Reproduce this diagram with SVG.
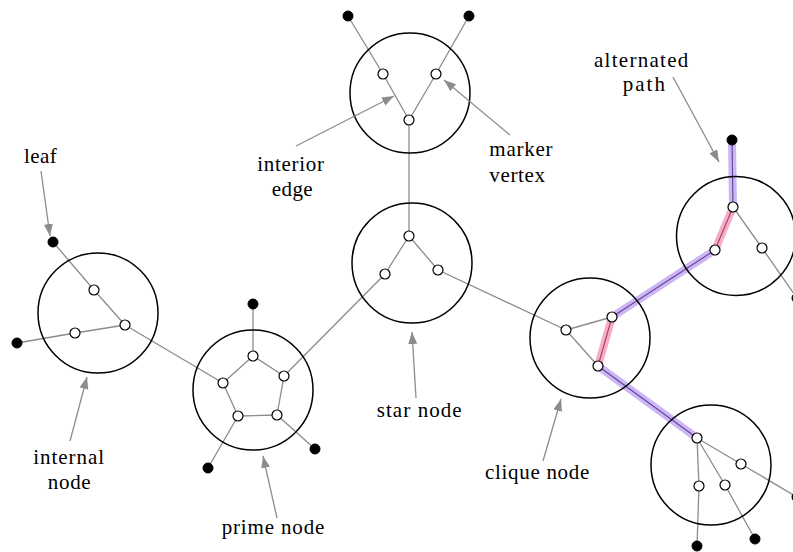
<svg xmlns="http://www.w3.org/2000/svg" width="793" height="552" viewBox="0 0 793 552">
<style>
.e{stroke:#8c8c8c;stroke-width:1.3;fill:none;stroke-linecap:round}
.pe{stroke:#222;stroke-width:1.1;fill:none}
.hp{stroke:#9d6cf2;stroke-opacity:0.5;stroke-width:8;fill:none;stroke-linecap:round}
.hk{stroke:#f2679f;stroke-opacity:0.55;stroke-width:8;fill:none;stroke-linecap:round}
.bag{fill:none;stroke:#000;stroke-width:1.5}
.v{fill:#fff;stroke:#000;stroke-width:1.2}
.lf{fill:#000;stroke:#000;stroke-width:1}
.a{stroke:#8c8c8c;stroke-width:1.3;fill:none;marker-end:url(#ah)}
.t{font-size:21px;fill:#000}
</style>
<defs>
<marker id="ah" markerUnits="userSpaceOnUse" markerWidth="13" markerHeight="10" refX="12" refY="4.5" orient="auto">
<path d="M0,0 L12,4.5 L0,9 z" fill="#8c8c8c"/>
</marker>
</defs>
<rect width="793" height="552" fill="#fff"/>
<g id="connectors">
<line class="e" x1="53" y1="242" x2="94" y2="290"/>
<line class="e" x1="94" y1="290" x2="125" y2="325"/>
<line class="e" x1="17" y1="343" x2="75" y2="333"/>
<line class="e" x1="75" y1="333" x2="125" y2="325"/>
<line class="e" x1="125" y1="325" x2="223" y2="383"/>
<line class="e" x1="253" y1="304" x2="253" y2="356"/>
<line class="e" x1="253" y1="356" x2="284" y2="376"/>
<line class="e" x1="284" y1="376" x2="277" y2="415"/>
<line class="e" x1="277" y1="415" x2="238" y2="416"/>
<line class="e" x1="238" y1="416" x2="223" y2="383"/>
<line class="e" x1="223" y1="383" x2="253" y2="356"/>
<line class="e" x1="238" y1="416" x2="208" y2="468"/>
<line class="e" x1="277" y1="415" x2="315" y2="449"/>
<line class="e" x1="284" y1="376" x2="385" y2="274"/>
<line class="e" x1="409" y1="236" x2="385" y2="274"/>
<line class="e" x1="409" y1="236" x2="438" y2="270"/>
<line class="e" x1="409" y1="236" x2="409" y2="120"/>
<line class="e" x1="438" y1="270" x2="566" y2="330"/>
<line class="e" x1="409" y1="120" x2="383" y2="74"/>
<line class="e" x1="383" y1="74" x2="348" y2="16"/>
<line class="e" x1="409" y1="120" x2="436" y2="74"/>
<line class="e" x1="436" y1="74" x2="469" y2="16"/>
<line class="e" x1="566" y1="330" x2="612" y2="317"/>
<line class="e" x1="566" y1="330" x2="598" y2="366"/>
<line class="e" x1="733" y1="207" x2="762" y2="248"/>
<line class="e" x1="762" y1="248" x2="797" y2="298"/>
<line class="e" x1="697" y1="438" x2="741" y2="464"/>
<line class="e" x1="741" y1="464" x2="797" y2="497"/>
<line class="e" x1="697" y1="438" x2="699" y2="486"/>
<line class="e" x1="699" y1="486" x2="697" y2="546"/>
<line class="e" x1="697" y1="438" x2="725" y2="485"/>
<line class="e" x1="725" y1="485" x2="755" y2="539"/>
<g id="alternated-path">
<line class="pe" x1="612" y1="317" x2="598" y2="366"/>
<line class="pe" x1="612" y1="317" x2="715" y2="250"/>
<line class="pe" x1="598" y1="366" x2="697" y2="438"/>
<line class="pe" x1="733" y1="207" x2="732" y2="140"/>
<line class="pe" x1="715" y1="250" x2="733" y2="207"/>
<line class="hk" x1="612" y1="317" x2="598" y2="366"/>
<line class="hk" x1="715" y1="250" x2="733" y2="207"/>
<line class="hp" x1="612" y1="317" x2="715" y2="250"/>
<line class="hp" x1="598" y1="366" x2="697" y2="438"/>
<line class="hp" x1="733" y1="207" x2="732" y2="142"/>
</g>
</g>
<g id="bag-internal">
<circle class="bag" cx="98" cy="313" r="60"/>
<circle class="v" cx="94" cy="290" r="5"/>
<circle class="v" cx="125" cy="325" r="5"/>
<circle class="v" cx="75" cy="333" r="5"/>
</g>
<g id="bag-prime">
<circle class="bag" cx="253" cy="390" r="60"/>
<circle class="v" cx="253" cy="356" r="5"/>
<circle class="v" cx="284" cy="376" r="5"/>
<circle class="v" cx="277" cy="415" r="5"/>
<circle class="v" cx="238" cy="416" r="5"/>
<circle class="v" cx="223" cy="383" r="5"/>
</g>
<g id="bag-star">
<circle class="bag" cx="412" cy="263" r="60"/>
<circle class="v" cx="409" cy="236" r="5"/>
<circle class="v" cx="385" cy="274" r="5"/>
<circle class="v" cx="438" cy="270" r="5"/>
</g>
<g id="bag-top">
<circle class="bag" cx="410" cy="93" r="60"/>
<circle class="v" cx="383" cy="74" r="5"/>
<circle class="v" cx="436" cy="74" r="5"/>
<circle class="v" cx="409" cy="120" r="5"/>
</g>
<g id="bag-clique">
<circle class="bag" cx="590" cy="338" r="60"/>
<circle class="v" cx="566" cy="330" r="5"/>
<circle class="v" cx="612" cy="317" r="5"/>
<circle class="v" cx="598" cy="366" r="5"/>
</g>
<g id="bag-topright">
<circle class="bag" cx="736" cy="236" r="59.5"/>
<circle class="v" cx="733" cy="207" r="5"/>
<circle class="v" cx="715" cy="250" r="5"/>
<circle class="v" cx="762" cy="248" r="5"/>
</g>
<g id="bag-bottomright">
<circle class="bag" cx="711" cy="465" r="60"/>
<circle class="v" cx="697" cy="438" r="5"/>
<circle class="v" cx="741" cy="464" r="5"/>
<circle class="v" cx="699" cy="486" r="5"/>
<circle class="v" cx="725" cy="485" r="5"/>
</g>
<g id="leaves">
<circle class="lf" cx="53" cy="242" r="5"/>
<circle class="lf" cx="17" cy="343" r="5"/>
<circle class="lf" cx="253" cy="304" r="5"/>
<circle class="lf" cx="208" cy="468" r="5"/>
<circle class="lf" cx="315" cy="449" r="5"/>
<circle class="lf" cx="348" cy="16" r="5"/>
<circle class="lf" cx="469" cy="16" r="5"/>
<circle class="lf" cx="732" cy="140" r="5"/>
<circle class="lf" cx="797" cy="298" r="5"/>
<circle class="lf" cx="797" cy="497" r="5"/>
<circle class="lf" cx="697" cy="546" r="5"/>
<circle class="lf" cx="755" cy="539" r="5"/>
</g>
<g id="annotations">
<line class="a" x1="41" y1="171" x2="50" y2="236"/>
<line class="a" x1="70" y1="441" x2="87" y2="377"/>
<line class="a" x1="277" y1="518" x2="263" y2="456"/>
<line class="a" x1="296" y1="146" x2="394" y2="96"/>
<line class="a" x1="510" y1="135" x2="444" y2="80"/>
<line class="a" x1="416" y1="398" x2="412" y2="332"/>
<line class="a" x1="543" y1="461" x2="561" y2="399"/>
<line class="a" x1="673" y1="77" x2="719" y2="162"/>
<g font-family="'Liberation Serif', 'DejaVu Serif', serif">
<text class="t" x="24" y="163" textLength="32.7" lengthAdjust="spacing">leaf</text>
<text class="t" x="33.3" y="464" textLength="70.7" lengthAdjust="spacing">internal</text>
<text class="t" x="47.7" y="488.5" textLength="43" lengthAdjust="spacing">node</text>
<text class="t" x="221.7" y="534" textLength="102.6" lengthAdjust="spacing">prime node</text>
<text class="t" x="257.3" y="171" textLength="66.7" lengthAdjust="spacing">interior</text>
<text class="t" x="271.7" y="196" textLength="41" lengthAdjust="spacing">edge</text>
<text class="t" x="489.3" y="156" textLength="63.3" lengthAdjust="spacing">marker</text>
<text class="t" x="489.3" y="182" textLength="55.7" lengthAdjust="spacing">vertex</text>
<text class="t" x="376.7" y="416.5" textLength="85" lengthAdjust="spacing">star node</text>
<text class="t" x="485" y="479.3" textLength="104.3" lengthAdjust="spacing">clique node</text>
<text class="t" x="594" y="66.5" textLength="94.3" lengthAdjust="spacing">alternated</text>
<text class="t" x="622.7" y="91" textLength="42.3" lengthAdjust="spacing">path</text>
</g>
</g>
</svg>
